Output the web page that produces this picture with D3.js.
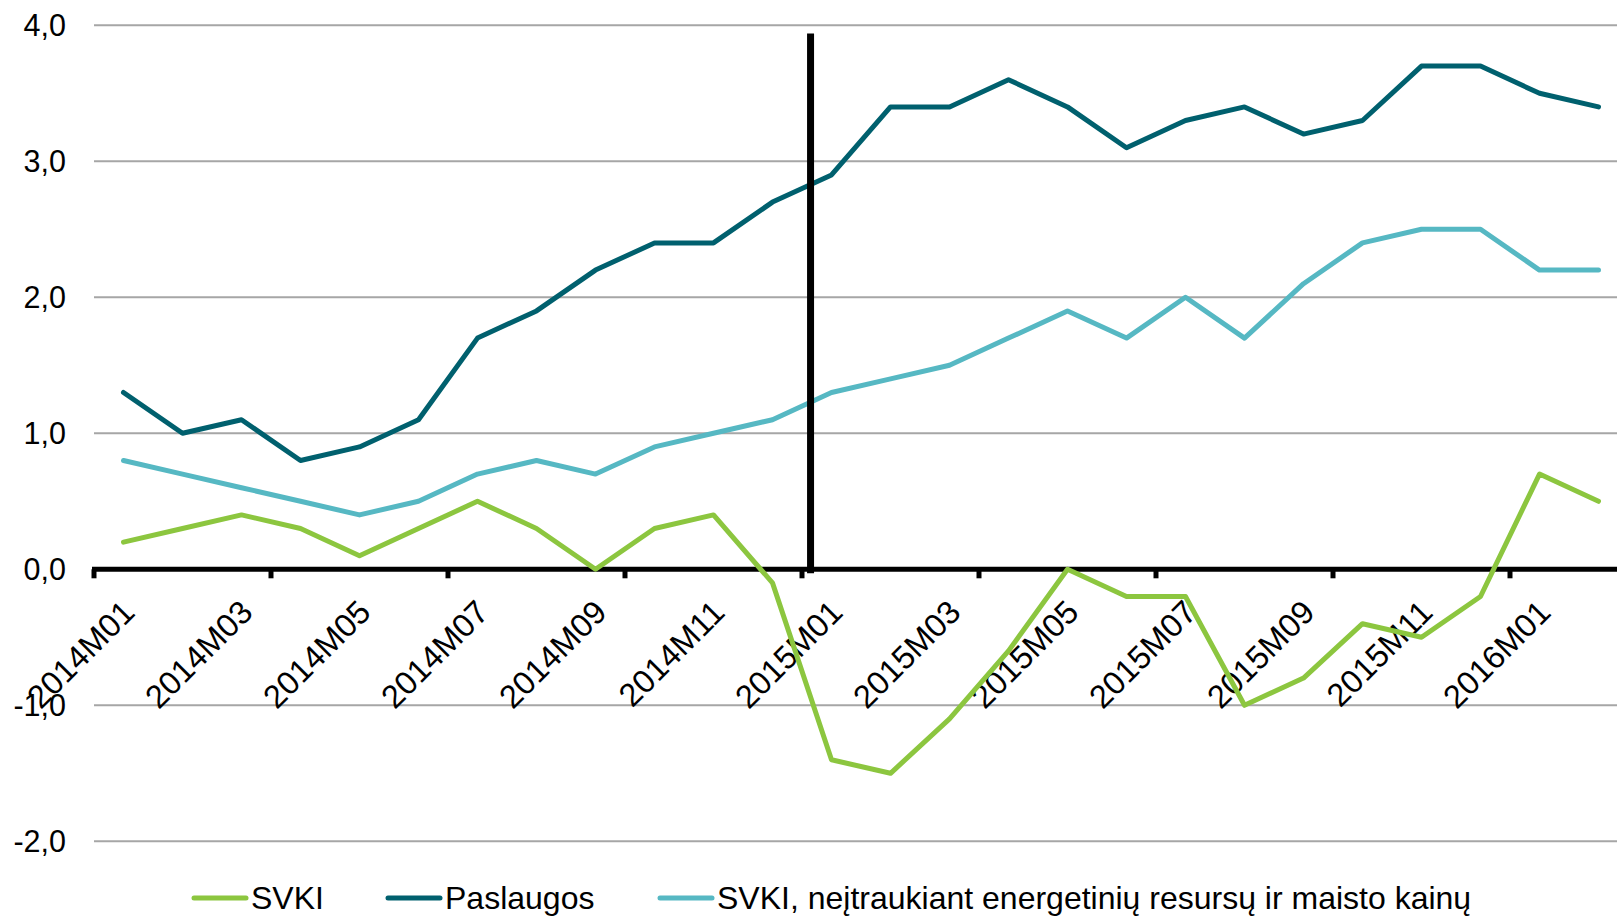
<!DOCTYPE html>
<html>
<head>
<meta charset="utf-8">
<script src="https://cdn.jsdelivr.net/npm/d3@7"></script>
<style>
  html, body { margin: 0; padding: 0; background: #fff; }
  svg { display: block; }
  text { font-family: "Liberation Sans", Arial, sans-serif; fill: #000; }
</style>
</head>
<body>
<svg id="chart" width="1617" height="917"></svg>
<script>
// ---- data ----
const months = [
  "2014M01","2014M02","2014M03","2014M04","2014M05","2014M06",
  "2014M07","2014M08","2014M09","2014M10","2014M11","2014M12",
  "2015M01","2015M02","2015M03","2015M04","2015M05","2015M06",
  "2015M07","2015M08","2015M09","2015M10","2015M11","2015M12",
  "2016M01","2016M02"
];
const svki = [0.2,0.3,0.4,0.3,0.1,0.3,0.5,0.3,0.0,0.3,0.4,-0.1,
              -1.4,-1.5,-1.1,-0.6,0.0,-0.2,-0.2,-1.0,-0.8,-0.4,-0.5,-0.2,
              0.7,0.5];
const paslaugos = [1.3,1.0,1.1,0.8,0.9,1.1,1.7,1.9,2.2,2.4,2.4,2.7,
                   2.9,3.4,3.4,3.6,3.4,3.1,3.3,3.4,3.2,3.3,3.7,3.7,
                   3.5,3.4];
const svkiCore = [0.8,0.7,0.6,0.5,0.4,0.5,0.7,0.8,0.7,0.9,1.0,1.1,
                  1.3,1.4,1.5,1.7,1.9,1.7,2.0,1.7,2.1,2.4,2.5,2.5,
                  2.2,2.2];
const yTicks = [-2,-1,0,1,2,3,4];
const seriesNames = ["SVKI","Paslaugos","SVKI, neįtraukiant energetinių resursų ir maisto kainų"];
const seriesColors = ["#8cc63f","#00606e","#56b8c3"];
const markerMonth = "2015M01";
const markerTop = 3.94;

// ---- layout ----
const svg = d3.select("#chart");
const W = 1617, H = 917;
const left = 94, bandW = 59;
const x = d3.scaleBand().domain(months).range([left, left + bandW * months.length]).padding(0);
const y = d3.scaleLinear().domain([-2, 4]).range([841.3, 25.3]);
const cx = m => x(m) + x.bandwidth() / 2;
const fmt = v => d3.format(".1f")(v).replace(".", ",").replace("−", "-");

svg.append("rect").attr("width", W).attr("height", H).attr("fill", "#fff");

// gridlines
svg.append("g").selectAll("line")
  .data(yTicks.filter(v => v !== 0))
  .join("line")
  .attr("x1", left).attr("x2", W)
  .attr("y1", d => y(d)).attr("y2", d => y(d))
  .attr("stroke", "#a6a6a6").attr("stroke-width", 2);

// y axis labels
const yAxis = d3.axisLeft(y).tickValues(yTicks).tickSize(0).tickPadding(28).tickFormat(fmt);
const gy = svg.append("g").attr("transform", `translate(${left},0)`).call(yAxis);
gy.select(".domain").remove();
gy.selectAll("text").attr("font-size", 30.5).attr("font-family", "Liberation Sans, Arial, sans-serif").attr("fill", "#000");

// x axis line at 0
const y0 = y(0);
svg.append("line").attr("x1", left - 2).attr("x2", W).attr("y1", y0).attr("y2", y0)
  .attr("stroke", "#000").attr("stroke-width", 5);
// tick marks every 3 categories at boundaries
const tickIdx = d3.range(0, months.length + 1, 3);
svg.append("g").selectAll("line").data(tickIdx).join("line")
  .attr("x1", i => left + i * x.bandwidth()).attr("x2", i => left + i * x.bandwidth())
  .attr("y1", y0).attr("y2", y0 + 9)
  .attr("stroke", "#000").attr("stroke-width", 5);

// x labels every 2 categories
svg.append("g").selectAll("text")
  .data(months.filter((m, i) => i % 2 === 0))
  .join("text")
  .attr("transform", d => `translate(${cx(d) + 13},${y0 + 45}) rotate(-45)`)
  .attr("text-anchor", "end")
  .attr("font-size", 32.5)
  .text(d => d);

// lines
const allSeries = [svki, paslaugos, svkiCore];
const line = d3.line().x((d, i) => cx(months[i])).y(d => y(d));
svg.append("g").selectAll("path").data(allSeries).join("path")
  .attr("d", d => line(d))
  .attr("fill", "none")
  .attr("stroke", (d, i) => seriesColors[i])
  .attr("stroke-width", 5)
  .attr("stroke-linejoin", "round")
  .attr("stroke-linecap", "round");

// vertical marker
const mx = x(markerMonth) + x.bandwidth() * 0.145;
svg.append("line").attr("x1", mx).attr("x2", mx)
  .attr("y1", y(markerTop)).attr("y2", y0 + 4)
  .attr("stroke", "#000").attr("stroke-width", 7);

// legend
const legendX = [194, 388, 660];
const legendY = 898;
const lg = svg.append("g").selectAll("g").data(seriesNames).join("g")
  .attr("transform", (d, i) => `translate(${legendX[i]},${legendY})`);
lg.append("line").attr("x1", 0).attr("x2", 52).attr("y1", 0).attr("y2", 0)
  .attr("stroke", (d, i) => seriesColors[i]).attr("stroke-width", 5).attr("stroke-linecap", "round");
lg.append("text").attr("x", 57).attr("y", 11).attr("font-size", 32).text(d => d);
</script>
</body>
</html>
